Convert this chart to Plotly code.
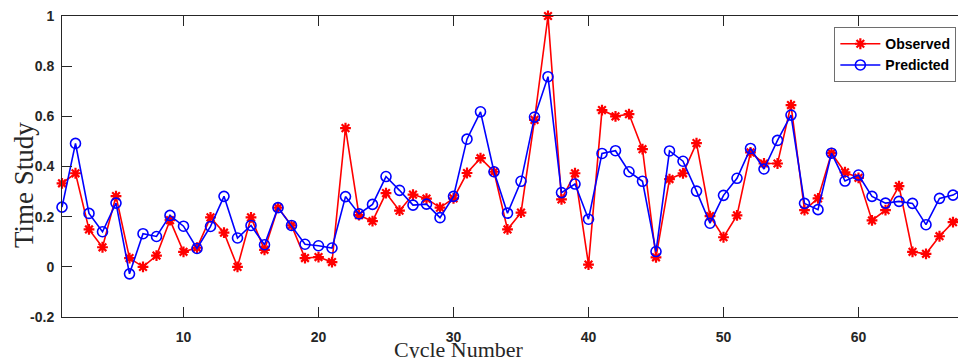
import plotly.graph_objects as go

cycle = list(range(1, 69))
observed = [0.333, 0.373, 0.149, 0.078, 0.282, 0.035, 0.0, 0.045, 0.186, 0.06,
            0.076, 0.197, 0.136, 0.0, 0.197, 0.068, 0.236, 0.165, 0.035, 0.039,
            0.019, 0.553, 0.206, 0.182, 0.294, 0.224, 0.288, 0.272, 0.236, 0.273,
            0.374, 0.433, 0.379, 0.149, 0.216, 0.586, 1.0, 0.269, 0.373, 0.009,
            0.625, 0.6, 0.609, 0.469, 0.038, 0.35, 0.373, 0.493, 0.202, 0.118,
            0.205, 0.456, 0.412, 0.412, 0.645, 0.226, 0.273, 0.453, 0.377, 0.355,
            0.185, 0.226, 0.322, 0.06, 0.052, 0.122, 0.178, 0.207]
predicted = [0.238, 0.492, 0.213, 0.14, 0.254, -0.028, 0.132, 0.121, 0.205, 0.162,
             0.073, 0.161, 0.281, 0.115, 0.165, 0.088, 0.236, 0.165, 0.09, 0.084,
             0.075, 0.28, 0.211, 0.249, 0.36, 0.305, 0.246, 0.25, 0.196, 0.281,
             0.509, 0.618, 0.379, 0.214, 0.341, 0.597, 0.758, 0.296, 0.33, 0.19,
             0.452, 0.463, 0.379, 0.341, 0.061, 0.462, 0.421, 0.302, 0.174, 0.285,
             0.353, 0.472, 0.39, 0.504, 0.605, 0.253, 0.228, 0.453, 0.342, 0.366,
             0.281, 0.254, 0.261, 0.253, 0.168, 0.273, 0.286, 0.318]

x_ticks = [10, 20, 30, 40, 50, 60]
y_ticks = [-0.2, 0, 0.2, 0.4, 0.6, 0.8, 1]
y_tick_text = ["-0.2", "0", "0.2", "0.4", "0.6", "0.8", "1"]

axis_color = "#262626"

fig = go.Figure()
fig.add_trace(go.Scatter(
    x=cycle, y=observed, name="Observed", mode="lines+markers",
    line=dict(color="#ff0000", width=1.6),
    marker=dict(symbol="asterisk-open", size=9, color="#ff0000",
                line=dict(color="#ff0000", width=2.2)),
    cliponaxis=False,
))
fig.add_trace(go.Scatter(
    x=cycle, y=predicted, name="Predicted", mode="lines+markers",
    line=dict(color="#0000ff", width=1.6),
    marker=dict(symbol="circle-open", size=10, color="#0000ff",
                line=dict(color="#0000ff", width=1.6)),
    cliponaxis=False,
))

fig.update_layout(
    width=958, height=358,
    margin=dict(l=62, r=0, t=16, b=41, autoexpand=False),
    paper_bgcolor="white", plot_bgcolor="white",
    showlegend=True,
    legend=dict(
        x=0.862, y=0.963, xanchor="left", yanchor="top",
        bgcolor="white", bordercolor="#6e6e6e", borderwidth=1,
        font=dict(family="Liberation Sans", size=14, color="black", weight="bold"),
        tracegroupgap=0, itemwidth=40,
    ),
    font=dict(family="Liberation Sans", color=axis_color),
)

fig.update_xaxes(
    range=[1, 67.37], tickvals=x_ticks, ticks="inside", ticklen=10, tickwidth=1,
    tickcolor=axis_color, showline=True, linecolor=axis_color, linewidth=1,
    mirror="ticks", showgrid=False, zeroline=False, automargin=False,
    tickfont=dict(family="Liberation Sans", size=14, color=axis_color, weight="bold"),
    ticklabelstandoff=7,
)
fig.update_yaxes(
    range=[-0.2, 1], tickvals=y_ticks, ticktext=y_tick_text, ticks="inside",
    ticklen=10, tickwidth=1, tickcolor=axis_color, showline=True,
    linecolor=axis_color, linewidth=1, mirror=False, showgrid=False,
    zeroline=False, automargin=False,
    tickfont=dict(family="Liberation Sans", size=14, color=axis_color, weight="bold"),
    ticklabelstandoff=4,
)

fig.add_annotation(
    text="Time Study", xref="paper", yref="paper",
    x=-0.043, y=0.44, xanchor="center", yanchor="middle", textangle=-90,
    showarrow=False, font=dict(family="Liberation Serif", size=27, color=axis_color),
)
fig.add_annotation(
    text="Cycle Number", xref="paper", yref="paper",
    x=0.443, y=-0.06, xanchor="center", yanchor="top",
    showarrow=False, font=dict(family="Liberation Serif", size=22, color=axis_color),
)

fig.write_html(
    "out.html",
    config={"displayModeBar": False},
    post_script="document.body.style.margin='0';document.body.style.overflow='hidden';",
)
